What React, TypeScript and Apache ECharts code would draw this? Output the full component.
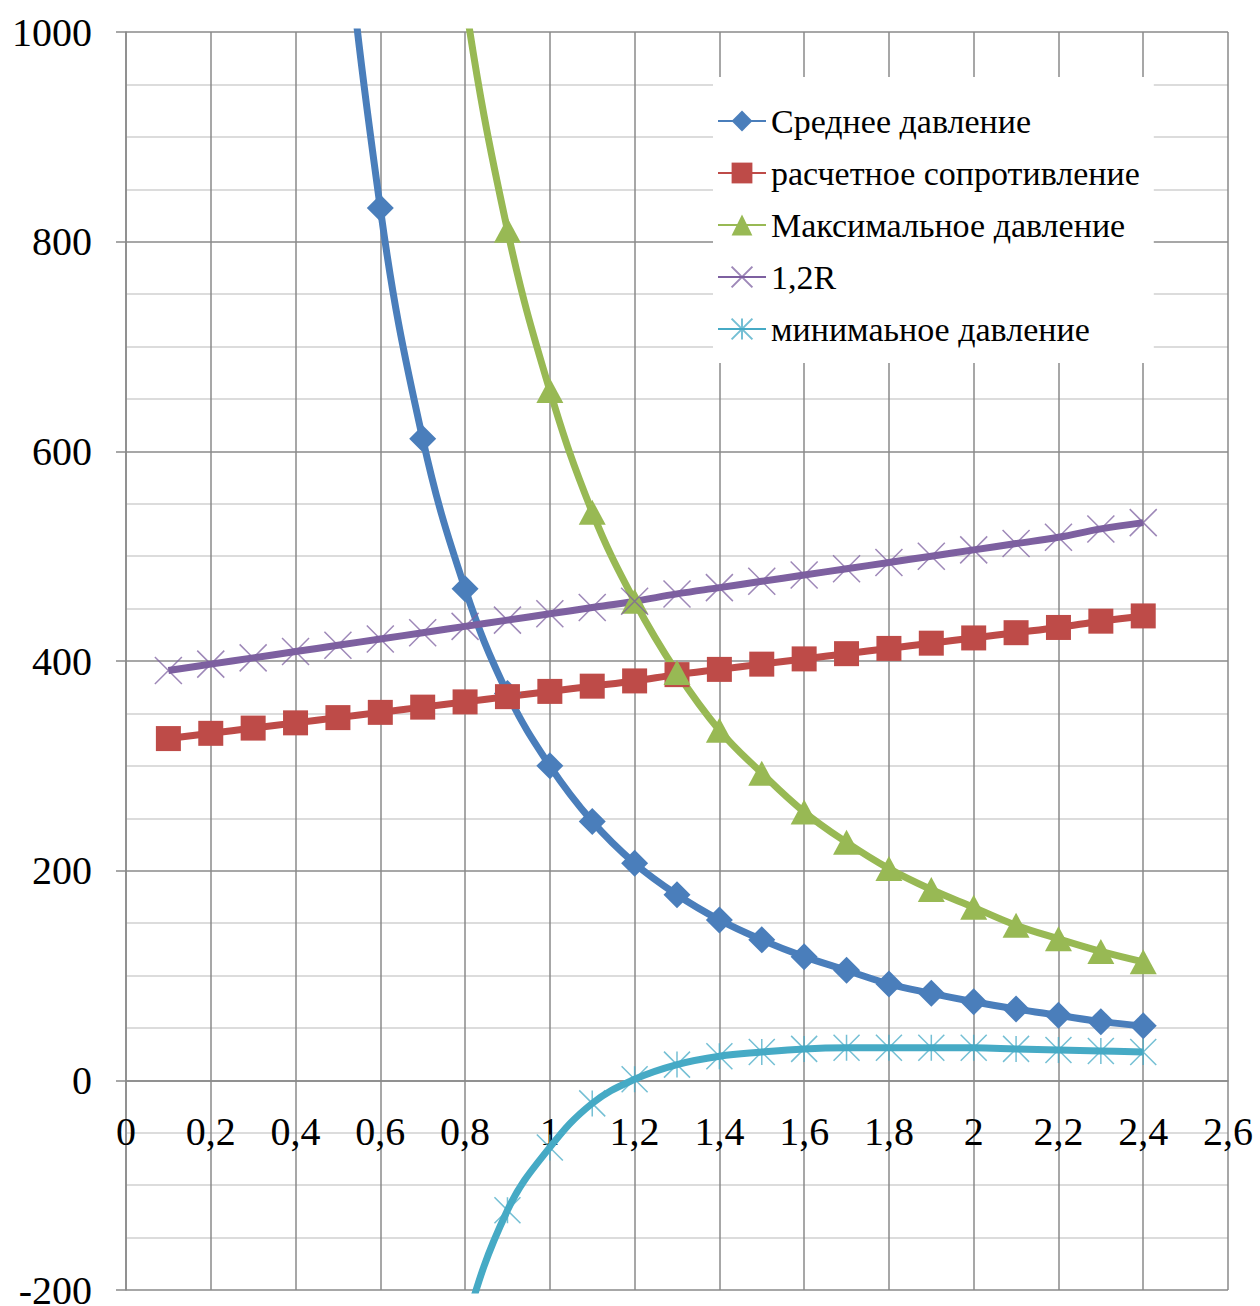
import React, { useEffect, useRef } from "react";
import * as echarts from "echarts";

const xValues = [0.1, 0.2, 0.3, 0.4, 0.5, 0.6, 0.7, 0.8, 0.9, 1.0, 1.1, 1.2, 1.3, 1.4, 1.5, 1.6, 1.7, 1.8, 1.9, 2.0, 2.1, 2.2, 2.3, 2.4];

const averagePressure = [null, null, null, 1875, 1200, 832, 612, 469, 369, 300, 247, 207, 177, 153, 134, 118, 105, 92, 83, 75, 68, 62, 56, 52];
const designResistance = [326, 331, 336, 341, 346, 351, 356, 361, 366, 371, 376, 381, 387, 392, 397, 402, 407, 412, 417, 422, 427, 432, 438, 443];
const maxPressure = [null, null, null, null, null, 1830, 1346, 1030, 811, 658, 542, 457, 389, 334, 293, 256, 227, 202, 182, 165, 148, 135, 123, 113];
const resistance12 = [391, 397, 403, 409, 415, 421, 427, 433, 439, 445, 451, 457, 464, 470, 476, 482, 488, 494, 500, 506, 512, 518, 526, 532];
const minPressure = [null, null, null, null, null, -620, -400, -235, -124, -64, -22, 1, 15, 23, 27, 30, 31, 31, 31, 31, 30, 29, 28, 27];

const seriesNames = [
  "Среднее давление",
  "расчетное сопротивление",
  "Максимальное давление",
  "1,2R",
  "минимаьное давление",
];

const Y_MIN = -200;
const Y_MAX = 1000;

const FONT = '"Liberation Serif", "Times New Roman", serif';
const GRID_DARK = "#8a8a8a";
const GRID_LIGHT = "#d0d0d0";
const BLUE = "#4A7EBB";
const RED = "#BE4B48";
const GREEN = "#98B954";
const PURPLE = "#7D60A0";
const CYAN = "#46AAC5";

const X_SYMBOL = "path://M0,0L10,10M10,0L0,10";
const STAR_SYMBOL = "path://M0,0L10,10M10,0L0,10M5,0L5,10";

const CHART_W = 1260;
const CHART_H = 1306;
const GRID_TOP = 32;
const GRID_BOTTOM = 16;

function pairs(values: (number | null)[]) {
  return xValues.map((x, i) => [x, values[i]]);
}

function fmtX(v: number) {
  return String(Math.round(v * 10) / 10).replace(".", ",");
}

export default function App() {
  const ref = useRef<HTMLDivElement>(null);

  useEffect(() => {
    document.body.style.margin = "0";
    if (!ref.current) return;
    const chart = echarts.init(ref.current, null, { renderer: "svg" });

    const lineSeries = (
      name: string,
      values: (number | null)[],
      color: string,
      symbol: string,
      symbolSize: number | number[],
      stroked: boolean
    ) => ({
      name,
      type: "line",
      smooth: 0.4,
      clip: true,
      connectNulls: false,
      data: pairs(values),
      symbol,
      symbolSize,
      showSymbol: true,
      lineStyle: { color, width: 7 },
      itemStyle: stroked
        ? { color: color, borderColor: color, borderWidth: 1.5, opacity: 0.75 }
        : { color },
      emphasis: { disabled: true },
    });

    const axisLineStyle = { color: GRID_DARK, width: 1.5 };
    // distance from the bottom of the plot (Y_MIN) to the zero line, in pixels
    const plotH = CHART_H - GRID_TOP - GRID_BOTTOM;
    const zeroOffset = (plotH * (0 - Y_MIN)) / (Y_MAX - Y_MIN);

    const option: any = {
      animation: false,
      backgroundColor: "#ffffff",
      textStyle: { fontFamily: FONT },
      grid: {
        left: 126,
        right: 32,
        top: GRID_TOP,
        bottom: GRID_BOTTOM,
        containLabel: false,
        outerBoundsMode: "none",
      },
      legend: {
        orient: "vertical",
        left: 713,
        top: 77,
        backgroundColor: "#ffffff",
        padding: [25, 14, 15, 4],
        itemWidth: 48,
        itemHeight: 26,
        itemGap: 14,
        textStyle: { fontFamily: FONT, fontSize: 34, color: "#000", lineHeight: 38 },
        data: seriesNames,
      },
      xAxis: {
        type: "value",
        min: 0,
        max: 2.6,
        interval: 0.2,
        position: "bottom",
        offset: -zeroOffset,
        axisLine: { show: true, onZero: false, lineStyle: axisLineStyle },
        axisTick: { show: false },
        axisLabel: {
          margin: 31,
          fontSize: 40,
          color: "#000",
          fontFamily: FONT,
          formatter: (v: number) => fmtX(v),
        },
        splitLine: { show: true, lineStyle: axisLineStyle },
      },
      yAxis: {
        type: "value",
        min: Y_MIN,
        max: Y_MAX,
        interval: 200,
        axisLine: { show: true, onZero: false, lineStyle: axisLineStyle },
        axisTick: { show: true, length: 10, lineStyle: axisLineStyle },
        axisLabel: {
          margin: 34,
          fontSize: 40,
          color: "#000",
          fontFamily: FONT,
          formatter: (v: number) => String(v),
        },
        splitLine: { show: true, lineStyle: axisLineStyle },
        minorTick: { show: false, splitNumber: 4 },
        minorSplitLine: { show: true, lineStyle: { color: GRID_LIGHT, width: 1.5 } },
      },
      series: [
        lineSeries(seriesNames[0], averagePressure, BLUE, "diamond", [27, 27], false),
        lineSeries(seriesNames[1], designResistance, RED, "rect", 25, false),
        lineSeries(seriesNames[2], maxPressure, GREEN, "triangle", [27, 25], false),
        lineSeries(seriesNames[3], resistance12, PURPLE, X_SYMBOL, 27, true),
        lineSeries(seriesNames[4], minPressure, CYAN, STAR_SYMBOL, 26, true),
      ],
    };

    chart.setOption(option);
    return () => {
      chart.dispose();
    };
  }, []);

  return (
    <div
      ref={ref}
      style={{ position: "absolute", left: 0, top: 0, width: CHART_W, height: CHART_H }}
    />
  );
}
